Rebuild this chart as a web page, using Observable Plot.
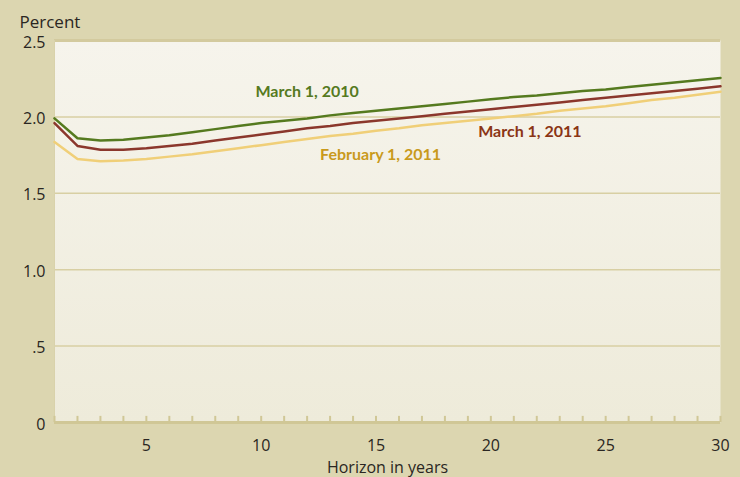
<!DOCTYPE html>
<html>
<head>
<meta charset="utf-8">
<script src="https://cdn.jsdelivr.net/npm/d3@7"></script>
<script src="https://cdn.jsdelivr.net/npm/@observablehq/plot@0.6"></script>
<style>
  html, body { margin: 0; padding: 0; background: #dcd6b0; }
  #chart svg { display: block; }
</style>
</head>
<body>
<div id="chart"></div>
<script>
const years = d3.range(1, 31);
const march2010 = [1.99,1.86,1.845,1.85,1.865,1.88,1.90,1.92,1.94,1.96,1.975,1.99,2.01,2.025,2.04,2.055,2.07,2.085,2.10,2.115,2.13,2.14,2.155,2.17,2.18,2.195,2.21,2.225,2.24,2.255];
const march2011 = [1.96,1.81,1.785,1.785,1.795,1.81,1.825,1.845,1.865,1.885,1.905,1.925,1.94,1.96,1.975,1.99,2.005,2.02,2.035,2.05,2.065,2.08,2.095,2.11,2.125,2.14,2.155,2.17,2.185,2.20];
const feb2011 = [1.835,1.725,1.71,1.715,1.725,1.74,1.755,1.775,1.795,1.815,1.835,1.855,1.875,1.89,1.91,1.925,1.945,1.96,1.975,1.99,2.005,2.02,2.04,2.055,2.07,2.09,2.11,2.125,2.145,2.165];
const seriesNames = ["March 1, 2010", "March 1, 2011", "February 1, 2011"];
const seriesColors = ["#557a1f", "#8b372c", "#f0cf78"];
const labelColors = ["#557a1f", "#8b3515", "#c99a1c"];
const yTicks = [0, 0.5, 1.0, 1.5, 2.0, 2.5];
const xTickLabels = [5, 10, 15, 20, 25, 30];
// label anchor positions (data coords)
const labelPos = [
  {name: seriesNames[0], x: 12.0, y: 2.166},
  {name: seriesNames[1], x: 21.7, y: 1.905},
  {name: seriesNames[2], x: 15.2, y: 1.754}
];

const rows = [];
[march2010, march2011, feb2011].forEach((arr, i) => {
  arr.forEach((v, j) => rows.push({series: seriesNames[i], year: years[j], value: v}));
});

const font = "'Open Sans', sans-serif";

const chart = Plot.plot({
  width: 740,
  height: 477,
  marginLeft: 54,
  marginRight: 20,
  marginTop: 40,
  marginBottom: 55,
  style: {background: "#dcd6b0", fontFamily: font, fontSize: "15px", color: "#2a2622"},
  x: {domain: [1, 30]},
  y: {domain: [0, 2.5]},
  color: {domain: seriesNames, range: seriesColors},
  marks: [
    Plot.frame({fill: "url(#plotgrad)", stroke: null}),
    Plot.ruleY([2.5], {stroke: "#d3ca9e", strokeWidth: 3}),
    Plot.ruleY([0.5, 1.0, 1.5, 2.0], {stroke: "#d8cfa3", strokeWidth: 1.5}),
    Plot.ruleX([1], {stroke: "#d9d2ab", strokeWidth: 1}),
    Plot.ruleX(years, {x: d => d, y1: 0, y2: 0.04, stroke: "#d0c796", strokeWidth: 2}),
    Plot.ruleY([0], {stroke: "#d0c796", strokeWidth: 3}),
    Plot.axisY({ticks: yTicks, tickSize: 0, tickPadding: 9, label: null, dy: 2,
      tickFormat: d => d === 0 ? "0" : d === 0.5 ? ".5" : d.toFixed(1), fontSize: 16}),
    Plot.axisX({ticks: xTickLabels, tickSize: 0, tickPadding: 17, label: null, fontSize: 16}),
    Plot.text(["Horizon in years"], {frameAnchor: "bottom", dy: 50, fontSize: 16, fill: "#2a2622"}),
    Plot.text(["Percent"], {frameAnchor: "top-left", textAnchor: "start", lineAnchor: "bottom", dx: -35, dy: -13, fontSize: 17, fill: "#2a2622"}),
    Plot.line(rows, {x: "year", y: "value", stroke: "series", strokeWidth: 2.5}),
    Plot.text(labelPos, {x: "x", y: "y", text: "name", fill: d => labelColors[seriesNames.indexOf(d.name)],
      fontWeight: "bold", fontSize: 16, fontFamily: "Lato, sans-serif"})
  ]
});

const defs = d3.create("svg:defs");
const g = defs.append("linearGradient").attr("id", "plotgrad").attr("x1", 0).attr("y1", 0).attr("x2", 0).attr("y2", 1);
g.append("stop").attr("offset", "0%").attr("stop-color", "#f6f4ec");
g.append("stop").attr("offset", "100%").attr("stop-color", "#eeebda");
chart.insertBefore(defs.node(), chart.firstChild);

document.getElementById("chart").appendChild(chart);
</script>
</body>
</html>
